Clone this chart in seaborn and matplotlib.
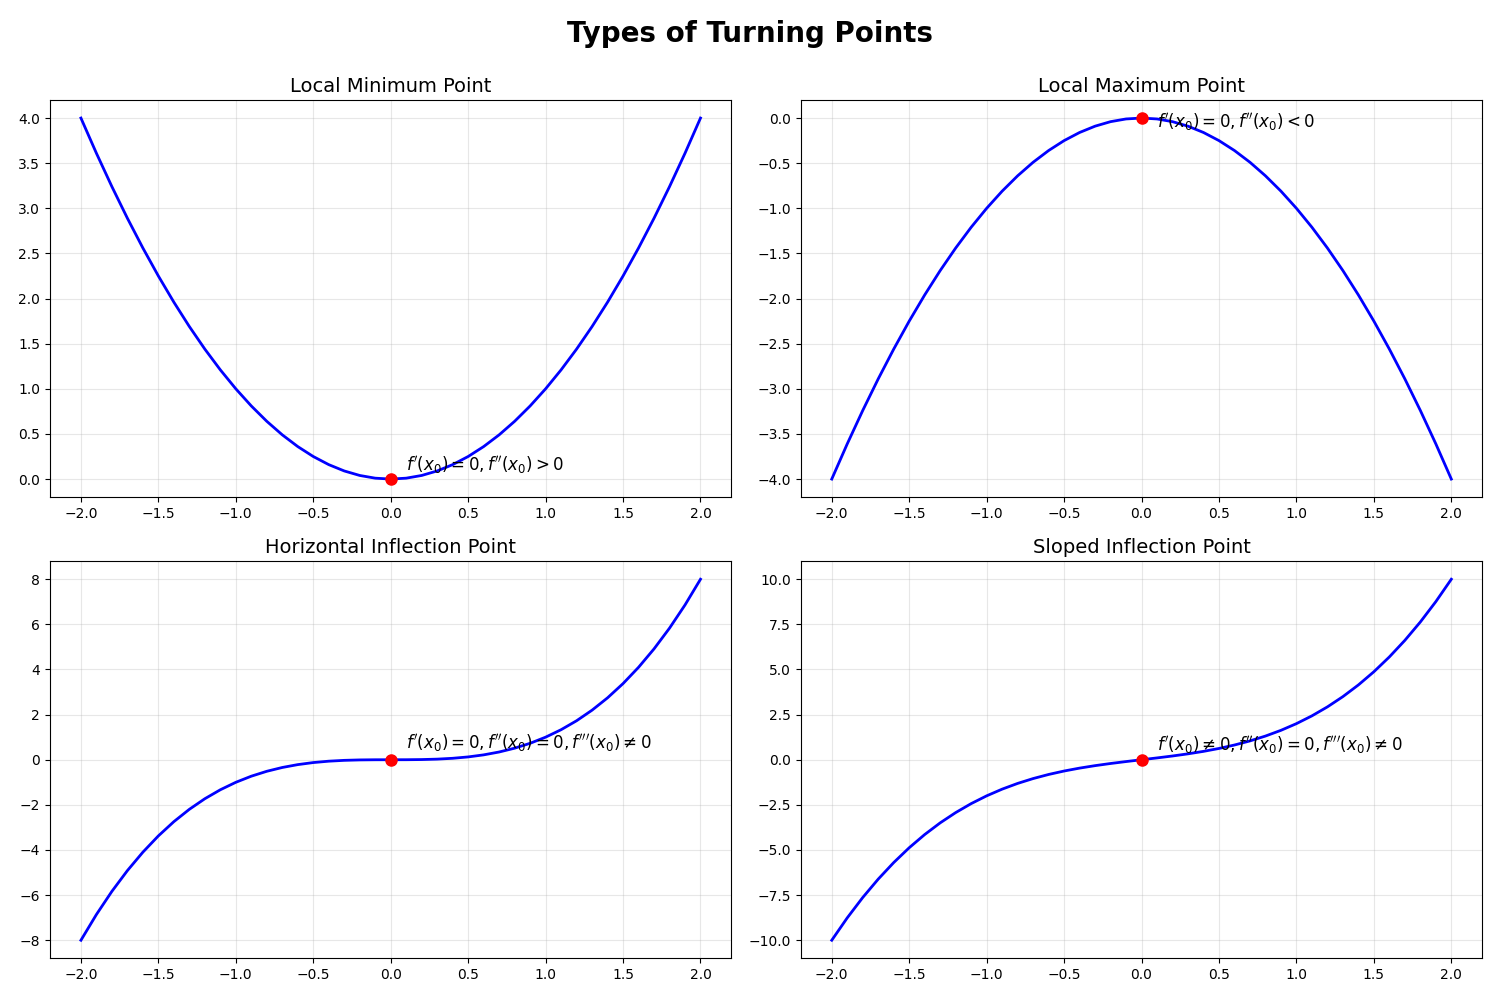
import matplotlib
matplotlib.use("Agg")
import matplotlib.pyplot as plt
import seaborn as sns
import pandas as pd

plt.style.use("default")
plt.rcParams['font.family'] = ['DejaVu Sans']

x_vals = [-2.0, -1.9, -1.8, -1.7, -1.6, -1.5, -1.4, -1.3, -1.2, -1.1, -1.0,
          -0.9, -0.8, -0.7, -0.6, -0.5, -0.4, -0.3, -0.2, -0.1, 0.0,
          0.1, 0.2, 0.3, 0.4, 0.5, 0.6, 0.7, 0.8, 0.9, 1.0,
          1.1, 1.2, 1.3, 1.4, 1.5, 1.6, 1.7, 1.8, 1.9, 2.0]

y_min = [4.0, 3.61, 3.24, 2.89, 2.56, 2.25, 1.96, 1.69, 1.44, 1.21, 1.0,
         0.81, 0.64, 0.49, 0.36, 0.25, 0.16, 0.09, 0.04, 0.01, 0.0,
         0.01, 0.04, 0.09, 0.16, 0.25, 0.36, 0.49, 0.64, 0.81, 1.0,
         1.21, 1.44, 1.69, 1.96, 2.25, 2.56, 2.89, 3.24, 3.61, 4.0]

y_max = [-4.0, -3.61, -3.24, -2.89, -2.56, -2.25, -1.96, -1.69, -1.44, -1.21, -1.0,
         -0.81, -0.64, -0.49, -0.36, -0.25, -0.16, -0.09, -0.04, -0.01, 0.0,
         -0.01, -0.04, -0.09, -0.16, -0.25, -0.36, -0.49, -0.64, -0.81, -1.0,
         -1.21, -1.44, -1.69, -1.96, -2.25, -2.56, -2.89, -3.24, -3.61, -4.0]

y_hinf = [-8.0, -6.859, -5.832, -4.913, -4.096, -3.375, -2.744, -2.197, -1.728, -1.331, -1.0,
          -0.729, -0.512, -0.343, -0.216, -0.125, -0.064, -0.027, -0.008, -0.001, 0.0,
          0.001, 0.008, 0.027, 0.064, 0.125, 0.216, 0.343, 0.512, 0.729, 1.0,
          1.331, 1.728, 2.197, 2.744, 3.375, 4.096, 4.913, 5.832, 6.859, 8.0]

y_sinf = [-10.0, -8.759, -7.632, -6.613, -5.696, -4.875, -4.144, -3.497, -2.928, -2.431, -2.0,
          -1.629, -1.312, -1.043, -0.816, -0.625, -0.464, -0.327, -0.208, -0.101, 0.0,
          0.101, 0.208, 0.327, 0.464, 0.625, 0.816, 1.043, 1.312, 1.629, 2.0,
          2.431, 2.928, 3.497, 4.144, 4.875, 5.696, 6.613, 7.632, 8.759, 10.0]

titles = ["Local Minimum Point", "Local Maximum Point",
          "Horizontal Inflection Point", "Sloped Inflection Point"]
labels = [r"$f'(x_0) = 0, f''(x_0) > 0$",
          r"$f'(x_0) = 0, f''(x_0) < 0$",
          r"$f'(x_0) = 0, f''(x_0) = 0, f'''(x_0) \neq 0$",
          r"$f'(x_0) \neq 0, f''(x_0) = 0, f'''(x_0) \neq 0$"]
label_offsets_y = [0.1, -0.1, 0.5, 0.5]
point_x = [0.0, 0.0, 0.0, 0.0]
point_y = [0.0, 0.0, 0.0, 0.0]

series = [y_min, y_max, y_hinf, y_sinf]

fig, axes = plt.subplots(2, 2, figsize=(15, 10), dpi=100)
for i, ax in enumerate(axes.flat):
    df = pd.DataFrame({"x": x_vals, "y": series[i]})
    sns.lineplot(data=df, x="x", y="y", ax=ax, color="blue", linewidth=2)
    ax.plot(point_x[i], point_y[i], "o", color="red", markersize=8, zorder=5)
    ax.text(point_x[i] + 0.1, point_y[i] + label_offsets_y[i], labels[i], fontsize=12)
    ax.set_title(titles[i], fontsize=14)
    ax.set_xlabel("")
    ax.set_ylabel("")
    ax.grid(True, alpha=0.3)

fig.suptitle("Types of Turning Points", fontsize=20, fontweight="bold")
fig.subplots_adjust(left=0.0333, right=0.9882, bottom=0.0417, top=0.9,
                    wspace=0.1017, hspace=0.1613)
fig.savefig("out.png", dpi=100)
